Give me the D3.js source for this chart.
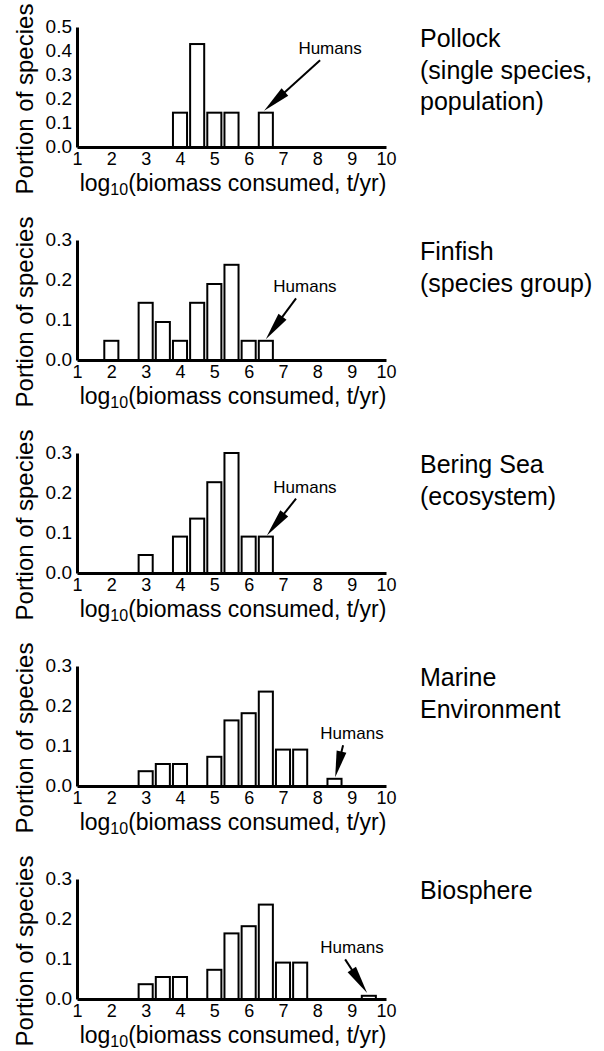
<!DOCTYPE html>
<html>
<head>
<meta charset="utf-8">
<style>
  body { margin: 0; background: white; font-family: "Liberation Sans", Helvetica, Arial, sans-serif; }
  svg text { fill: black; }
</style>
<script src="https://cdn.jsdelivr.net/npm/d3@7"></script>
</head>
<body>
<svg id="chart" width="604" height="1051"></svg>
<script>
// panel titles (right side)
const panelLabels = [
  ["Pollock", "(single species,", "population)"],
  ["Finfish", "(species group)"],
  ["Bering Sea", "(ecosystem)"],
  ["Marine", "Environment"],
  ["Biosphere"]
];
// bin centres (log10 t/yr) and portion of species
const pollockBins = [4, 4.5, 5, 5.5, 6.5];
const pollockValues = [0.143, 0.429, 0.143, 0.143, 0.143];
const finfishBins = [2, 3, 3.5, 4, 4.5, 5, 5.5, 6, 6.5];
const finfishValues = [0.048, 0.143, 0.095, 0.048, 0.143, 0.19, 0.238, 0.048, 0.048];
const beringBins = [3, 4, 4.5, 5, 5.5, 6, 6.5];
const beringValues = [0.045, 0.091, 0.136, 0.227, 0.3, 0.091, 0.091];
const marineBins = [3, 3.5, 4, 5, 5.5, 6, 6.5, 7, 7.5, 8.5];
const marineValues = [0.037, 0.055, 0.055, 0.073, 0.164, 0.182, 0.236, 0.091, 0.091, 0.018];
const biosphereBins = [3, 3.5, 4, 5, 5.5, 6, 6.5, 7, 7.5, 9.5];
const biosphereValues = [0.037, 0.055, 0.055, 0.073, 0.164, 0.182, 0.236, 0.091, 0.091, 0.008];

const yMax = [0.5, 0.3, 0.3, 0.3, 0.3];
const xTicks = [1, 2, 3, 4, 5, 6, 7, 8, 9, 10];

// "Humans" note per panel, in data units: label spot, arrow start, arrow tip
const humanLabel = [[8.37, 0.387], [7.64, 0.169], [7.64, 0.201], [9.01, 0.117], [9.01, 0.114]];
const humanFrom = [[8.08, 0.361], [7.38, 0.154], [7.38, 0.186], [8.75, 0.102], [8.81, 0.099]];
const humanTo = [[6.45, 0.151], [6.5, 0.052], [6.53, 0.094], [8.52, 0.022], [9.45, 0.015]];

const allBins = [pollockBins, finfishBins, beringBins, marineBins, biosphereBins];
const allValues = [pollockValues, finfishValues, beringValues, marineValues, biosphereValues];

const svg = d3.select("#chart");
const x = d3.scaleLinear().domain([1, 10]).range([77, 386]);
const barW = (x(1.5) - x(1)) * 0.82;
const plotH = 120;

allBins.forEach(function(bins, i) {
  let top = 27 + i * 213;
  let base = top + plotH;
  let y = d3.scaleLinear().domain([0, yMax[i]]).range([base, top]);
  let g = svg.append("g");
  let data = bins.map((b, k) => ({bin: b, v: allValues[i][k]}));

  g.selectAll("rect").data(data).enter().append("rect")
    .attr("x", d => x(d.bin) - barW / 2)
    .attr("y", d => y(d.v))
    .attr("width", barW)
    .attr("height", d => base - y(d.v))
    .attr("fill", "white")
    .attr("stroke", "black")
    .attr("stroke-width", 2);

  let yAxis = g.append("g").attr("transform", "translate(" + x(1) + ",0)")
    .call(d3.axisLeft(y).tickValues(d3.range(0, yMax[i] + 0.01, 0.1)).tickFormat(d3.format(".1f"))
      .tickSize(0).tickPadding(5));
  let xAxis = g.append("g").attr("transform", "translate(0," + base + ")")
    .call(d3.axisBottom(x).tickValues(xTicks).tickFormat(d3.format("d")).tickSize(0).tickPadding(5));
  [yAxis, xAxis].forEach(a => {
    a.select(".domain").attr("stroke", "black").attr("stroke-width", 3);
    a.selectAll("text").attr("font-family", "Liberation Sans, Helvetica, Arial, sans-serif")
      .attr("font-size", 19).attr("fill", "black");
  });
  yAxis.selectAll("text").attr("dy", "0.3em");
  xAxis.selectAll("text").attr("font-size", 18);

  // axis titles
  let xt = g.append("text").attr("x", 233).attr("y", base + 44)
    .attr("text-anchor", "middle").attr("font-size", 23);
  xt.append("tspan").text("log");
  xt.append("tspan").attr("font-size", 16).attr("dy", 4).text("10");
  xt.append("tspan").attr("dy", -4).text("(biomass consumed, t/yr)");

  g.append("text").attr("transform", "translate(33," + (top + plotH / 2 + 12) + ") rotate(-90)")
    .attr("text-anchor", "middle").attr("font-size", 24).text("Portion of species");

  // panel label
  g.append("text").attr("x", 420).attr("y", top + 20).attr("font-size", 25)
    .selectAll("tspan").data(panelLabels[i]).enter().append("tspan")
    .attr("x", 420).attr("dy", (d, k) => k === 0 ? 0 : 31.5).text(d => d);

  // Humans arrow
  g.append("text").attr("x", x(humanLabel[i][0])).attr("y", y(humanLabel[i][1]))
    .attr("text-anchor", "middle").attr("font-size", 17).text("Humans");
  let x0 = x(humanFrom[i][0]), y0 = y(humanFrom[i][1]);
  let x1 = x(humanTo[i][0]), y1 = y(humanTo[i][1]);
  let len = Math.hypot(x1 - x0, y1 - y0);
  let ux = (x1 - x0) / len, uy = (y1 - y0) / len;
  let hl = Math.min(28, len * 0.8), hw = 5;
  g.append("line").attr("x1", x0).attr("y1", y0)
    .attr("x2", x1 - ux * hl * 0.5).attr("y2", y1 - uy * hl * 0.5)
    .attr("stroke", "black").attr("stroke-width", 2);
  let bx = x1 - ux * hl, by = y1 - uy * hl;
  g.append("path")
    .attr("d", "M" + x1 + "," + y1 + "L" + (bx - uy * hw) + "," + (by + ux * hw)
      + "L" + (bx + uy * hw) + "," + (by - ux * hw) + "Z")
    .attr("fill", "black");
});
</script>
</body>
</html>
